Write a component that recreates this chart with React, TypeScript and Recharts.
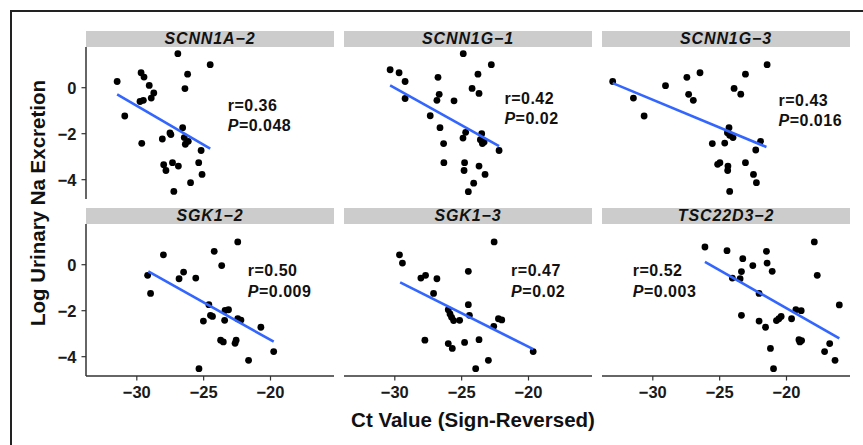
import React from 'react';
import { ScatterChart, Scatter, XAxis, YAxis } from 'recharts';

// shared axes (facet_wrap with fixed scales)
const xDomain = [-33.8, -15.25];
const yDomain = [-4.84, 1.77];
const xTicks = [-30, -25, -20];
const yTicks = [-4, -2, 0];

const panelTitles = ['SCNN1A\u22122', 'SCNN1G\u22121', 'SCNN1G\u22123', 'SGK1\u22122', 'SGK1\u22123', 'TSC22D3\u22122'];
const rLabels = ['r=0.36', 'r=0.42', 'r=0.43', 'r=0.50', 'r=0.47', 'r=0.52'];
const pLabels = ['=0.048', '=0.02', '=0.016', '=0.009', '=0.02', '=0.003'];
// where the r / P text starts, in data units
const labelAnchors = [[-23.2, -1.0], [-21.8, -0.7], [-20.6, -0.78], [-21.7, -0.5], [-21.3, -0.5], [-31.5, -0.5]];

const scnn1a2 = [
  [-31.47, 0.27], [-26.93, 1.48], [-24.51, 1.0], [-29.68, 0.65], [-29.46, 0.46], [-29.07, 0.1],
  [-26.2, 0.59], [-26.4, -0.04], [-28.73, -0.23], [-28.92, -0.45], [-29.76, -0.6], [-29.51, -0.55],
  [-30.9, -1.23], [-29.63, -2.42], [-28.09, -2.23], [-27.52, -1.97], [-27.45, -2.04], [-26.57, -1.74],
  [-26.45, -2.17], [-26.15, -2.33], [-26.37, -2.46], [-25.19, -2.73], [-27.99, -3.35], [-27.82, -3.6],
  [-27.33, -3.26], [-26.89, -3.41], [-25.37, -3.26], [-25.12, -3.77], [-25.98, -4.13], [-27.23, -4.51],
];
const scnn1a2Fit = [[-31.47, -0.29], [-24.51, -2.65]];

const scnn1g1 = [
  [-30.35, 0.78], [-29.68, 0.65], [-29.23, 0.27], [-29.23, -0.47], [-24.88, 1.48], [-22.78, 1.0],
  [-23.78, 0.59], [-26.77, 0.45], [-24.22, -0.03], [-23.7, -0.25], [-26.68, -0.29], [-26.85, -0.55],
  [-25.57, -0.57], [-27.35, -1.22], [-26.62, -1.74], [-26.35, -2.43], [-24.7, -1.94], [-24.9, -2.19],
  [-23.5, -2.0], [-23.6, -2.26], [-23.32, -2.36], [-23.45, -2.43], [-22.2, -2.73], [-26.33, -3.26],
  [-24.78, -3.26], [-24.82, -3.6], [-23.7, -3.41], [-23.25, -3.77], [-24.1, -4.15], [-24.5, -4.52],
];
const scnn1g1Fit = [[-30.35, 0.1], [-22.2, -2.54]];

const scnn1g3 = [
  [-33.0, 0.27], [-31.45, -0.45], [-30.65, -1.23], [-29.05, 0.09], [-27.45, 0.45], [-26.47, 0.65],
  [-27.32, -0.29], [-26.97, -0.55], [-23.07, 0.59], [-21.45, 1.0], [-23.92, -0.03], [-23.42, -0.28],
  [-24.3, -1.74], [-24.42, -1.96], [-24.25, -2.07], [-24.0, -2.17], [-24.62, -2.41], [-25.55, -2.43],
  [-21.94, -2.33], [-22.3, -2.71], [-25.15, -3.33], [-24.98, -3.26], [-24.38, -3.41], [-24.4, -3.6],
  [-23.07, -3.26], [-22.47, -3.77], [-22.25, -4.13], [-24.25, -4.51],
];
const scnn1g3Fit = [[-33.0, 0.2], [-21.5, -2.58]];

const sgk12 = [
  [-29.19, -0.46], [-28.97, -1.25], [-28.01, 0.43], [-26.84, -0.61], [-26.5, -0.32], [-25.59, -0.58],
  [-24.21, 0.58], [-22.45, 0.99], [-23.65, -0.04], [-24.61, -1.74], [-25.02, -2.45], [-24.49, -2.2],
  [-24.34, -2.25], [-23.4, -1.99], [-23.14, -1.96], [-23.43, -2.42], [-22.45, -2.35], [-22.21, -2.41],
  [-20.72, -2.72], [-23.73, -3.28], [-23.53, -3.36], [-22.57, -3.28], [-22.65, -3.42], [-21.64, -4.16],
  [-19.76, -3.78], [-25.35, -4.52],
];
const sgk12Fit = [[-29.14, -0.29], [-19.76, -3.35]];

const sgk13 = [
  [-29.65, 0.43], [-29.43, 0.07], [-28.05, -0.58], [-27.7, -0.46], [-26.85, -0.61], [-27.1, -1.25],
  [-24.5, -0.29], [-22.57, 0.99], [-24.5, -1.74], [-26.0, -1.96], [-25.87, -2.14], [-25.75, -2.29],
  [-25.6, -2.43], [-25.15, -2.42], [-24.42, -2.2], [-22.6, -2.68], [-22.25, -2.35], [-22.0, -2.4],
  [-19.65, -3.78], [-27.75, -3.28], [-26.0, -3.43], [-25.7, -3.64], [-24.78, -3.38], [-23.7, -3.26],
  [-23.0, -4.16], [-23.95, -4.52],
];
const sgk13Fit = [[-29.6, -0.77], [-19.65, -3.67]];

const tsc22d32 = [
  [-26.1, 0.77], [-24.45, 0.61], [-23.27, 0.26], [-23.37, -0.3], [-24.05, -0.58], [-23.47, -0.61],
  [-22.52, -0.04], [-21.5, 0.58], [-21.45, 0.07], [-21.07, -0.29], [-17.92, 0.99], [-17.7, -0.46],
  [-22.05, -1.25], [-23.37, -2.2], [-22.05, -2.45], [-21.57, -2.72], [-20.75, -2.43], [-20.57, -2.35],
  [-20.4, -2.25], [-19.62, -2.35], [-19.3, -1.96], [-18.9, -2.0], [-16.05, -1.75], [-19.07, -3.26],
  [-18.87, -3.3], [-19.0, -3.36], [-16.77, -3.43], [-17.15, -3.78], [-16.37, -4.16], [-21.2, -3.64],
  [-20.97, -4.52],
];
const tsc22d32Fit = [[-26.1, 0.12], [-16.05, -3.2]];

const pointSets = [scnn1a2, scnn1g1, scnn1g3, sgk12, sgk13, tsc22d32];
const fitSets = [scnn1a2Fit, scnn1g1Fit, scnn1g3Fit, sgk12Fit, sgk13Fit, tsc22d32Fit];

const toXY = (arr: number[][]) => arr.map(([x, y]) => ({ x, y }));

const FONT = '"Liberation Sans", Arial, Helvetica, sans-serif';
const PANEL_W = 248;
const PLOT_H = 152;
const STRIP_H = 16;
const AXIS_W = 40;
const AXIS_H = 40;
const colLeft = [86, 344, 602];
const rowTop = [31, 208];

const fmt = (v: number) => String(v).replace('-', '\u2212');
const tickStyle = { fill: '#1a1a1a', fontSize: 16.5, fontWeight: 700, fontFamily: FONT };

function Panel({ i }: { i: number }) {
  const col = i % 3;
  const row = Math.floor(i / 3);
  const showY = col === 0;
  const showX = row === 1;
  const left = colLeft[col] - (showY ? AXIS_W : 0);
  const anchor = [{ x: labelAnchors[i][0], y: labelAnchors[i][1] }];
  return (
    <div style={{ position: 'absolute', left, top: rowTop[row] }}>
      <div
        style={{
          marginLeft: showY ? AXIS_W : 0, width: PANEL_W, height: STRIP_H, background: '#cccccc',
          textAlign: 'center', lineHeight: STRIP_H + 'px', fontFamily: FONT, fontSize: 16,
          fontWeight: 700, fontStyle: 'italic', letterSpacing: 0.9, color: '#111',
        }}
      >
        {panelTitles[i]}
      </div>
      <ScatterChart
        width={PANEL_W + (showY ? AXIS_W : 0)}
        height={PLOT_H + (showX ? AXIS_H : 0)}
        margin={{ top: 0, right: 0, bottom: 0, left: 0 }}
      >
        <XAxis
          dataKey="x" type="number" domain={xDomain} ticks={xTicks} allowDataOverflow
          hide={!showX} height={AXIS_H} tickFormatter={fmt} tick={tickStyle}
          axisLine={{ stroke: '#333', strokeWidth: 1.5 }} tickLine={{ stroke: '#333', strokeWidth: 1.2 }}
          tickSize={4.5} tickMargin={6}
        />
        <YAxis
          dataKey="y" type="number" domain={yDomain} ticks={yTicks} allowDataOverflow
          hide={!showY} width={AXIS_W} tickFormatter={fmt} tick={tickStyle}
          axisLine={{ stroke: '#333', strokeWidth: 1.5 }} tickLine={{ stroke: '#333', strokeWidth: 1.2 }}
          tickSize={4.5} tickMargin={5}
        />
        <Scatter
          data={toXY(pointSets[i])} isAnimationActive={false}
          shape={(p: any) => <circle cx={p.cx} cy={p.cy} r={3.4} fill="#000" />}
        />
        <Scatter
          data={toXY(fitSets[i])} isAnimationActive={false}
          line={{ stroke: '#3366FF', strokeWidth: 2.6 }}
          shape={() => <g />}
        />
        <Scatter
          data={anchor} isAnimationActive={false}
          shape={(p: any) => (
            <text x={p.cx} y={p.cy} fontFamily={FONT} fontSize={16} fontWeight={700} fill="#111" letterSpacing={0.5}>
              <tspan x={p.cx}>{rLabels[i]}</tspan>
              <tspan x={p.cx} dy={20.5}>
                <tspan fontStyle="italic">P</tspan>
                {pLabels[i]}
              </tspan>
            </text>
          )}
        />
      </ScatterChart>
    </div>
  );
}

export default function App() {
  return (
    <div style={{ position: 'absolute', left: 0, top: 0, width: 863, height: 445, background: '#fff', overflow: 'hidden' }}>
      <div
        style={{
          position: 'absolute', left: 10, top: 10, right: 0, bottom: 0,
          borderTop: '2px solid #222', borderLeft: '2px solid #222',
        }}
      />
      {panelTitles.map((_, i) => (
        <Panel key={i} i={i} />
      ))}
      <svg width={863} height={445} style={{ position: 'absolute', left: 0, top: 0, pointerEvents: 'none' }}>
        <text
          x={37} y={203} transform="rotate(-90 37 203)" textAnchor="middle" dominantBaseline="central"
          fontFamily={FONT} fontSize={20.5} fontWeight={700} fill="#111"
        >
          Log Urinary Na Excretion
        </text>
        <text x={473} y={427} textAnchor="middle" fontFamily={FONT} fontSize={20.5} fontWeight={700} fill="#111">
          Ct Value (Sign-Reversed)
        </text>
      </svg>
    </div>
  );
}
